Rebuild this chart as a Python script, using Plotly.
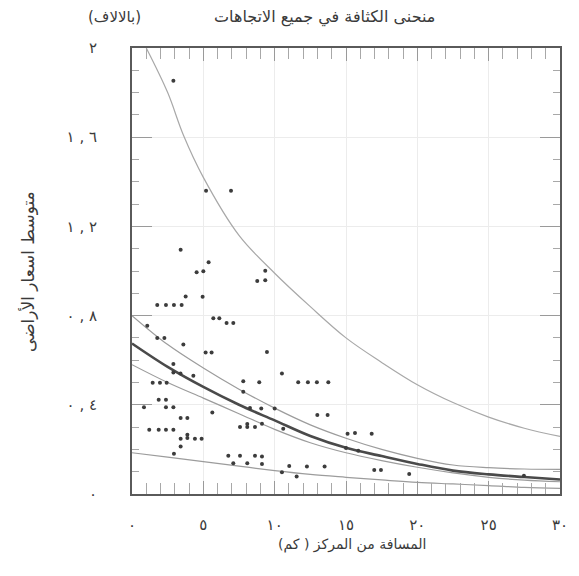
import plotly.graph_objects as go

# ---------------- data ----------------
x_tickvals = [0, 5, 10, 15, 20, 25, 30]
x_ticktext = ["٠", "٥", "١٠", "١٥", "٢٠", "٢٥", "٣٠"]
LRO, PDF = "\u202D", "\u202C"
y_tickvals = [0, 0.4, 0.8, 1.2, 1.6, 2.0]
y_ticktext = ["٠", LRO + "٠ , ٤" + PDF, LRO + "٠ , ٨" + PDF, LRO + "١ , ٢" + PDF, LRO + "١ , ٦" + PDF, "٢"]

pts_x = [2.9, 5.19, 6.94, 3.41, 5.37, 4.53, 5.0, 8.78, 9.34, 9.34, 3.76, 4.95,
         1.77, 2.38, 2.94, 3.48, 5.7, 6.12, 6.63, 7.1, 1.07, 1.77, 2.27, 3.6,
         5.16, 5.58, 9.46, 2.9, 2.9, 3.4, 4.3, 10.51, 1.45, 1.96, 2.43, 7.8, 8.92,
         11.65, 12.33, 12.96, 13.76, 7.8, 1.87, 2.38, 0.84, 2.38, 2.9, 8.27, 9.06,
         10.0, 5.63, 12.99, 13.71, 3.41, 3.88, 7.57, 8.08, 8.08, 8.62, 9.11, 10.6,
         1.21, 1.87, 2.38, 2.9, 15.11, 15.63, 16.8, 3.88, 3.88, 3.41, 4.41, 4.88,
         3.41, 15.0, 15.86, 2.94, 6.75, 7.57, 8.62, 9.11, 7.1, 8.08, 9.11, 11.02,
         12.26, 13.5, 16.98, 17.45, 10.51, 19.43, 11.54, 27.47]
pts_y = [1.853, 1.36, 1.36, 1.095, 1.039, 0.994, 0.999, 0.955, 0.958, 1.001, 0.886, 0.884,
         0.847, 0.847, 0.847, 0.847, 0.788, 0.788, 0.767, 0.767, 0.754, 0.70, 0.70, 0.67,
         0.635, 0.635, 0.637, 0.583, 0.545, 0.54, 0.53, 0.54, 0.499, 0.499, 0.499, 0.506, 0.501,
         0.501, 0.501, 0.501, 0.501, 0.458, 0.423, 0.423, 0.389, 0.389, 0.389, 0.386, 0.383,
         0.383, 0.366, 0.354, 0.354, 0.341, 0.341, 0.30, 0.314, 0.30, 0.30, 0.315, 0.293,
         0.288, 0.288, 0.288, 0.288, 0.27, 0.273, 0.27, 0.266, 0.251, 0.248, 0.248, 0.248,
         0.213, 0.206, 0.194, 0.18, 0.171, 0.171, 0.171, 0.168, 0.138, 0.138, 0.135, 0.126,
         0.123, 0.123, 0.108, 0.108, 0.098, 0.09, 0.078, 0.082]

curve_x = [0, 2.5, 5, 7.5, 10, 12.5, 15, 17.5, 20, 22.5, 25, 27.5, 30]
upper_x = [1.0, 2.5, 3.6, 5, 7.5, 10, 12.5, 15, 17.5, 20, 22.5, 25, 27.5, 30]
upper_y = [2.0, 1.8, 1.61, 1.42, 1.16, 0.99, 0.84, 0.70, 0.59, 0.49, 0.41, 0.345, 0.295, 0.258]
band_hi_y = [0.80, 0.67, 0.565, 0.47, 0.385, 0.31, 0.25, 0.20, 0.16, 0.13, 0.118, 0.112, 0.11]
mid_y = [0.675, 0.57, 0.48, 0.40, 0.33, 0.26, 0.207, 0.17, 0.135, 0.105, 0.088, 0.076, 0.065]
band_lo_y = [0.58, 0.50, 0.43, 0.36, 0.29, 0.23, 0.185, 0.15, 0.12, 0.095, 0.075, 0.062, 0.055]
bottom_y = [0.185, 0.165, 0.145, 0.125, 0.105, 0.088, 0.075, 0.063, 0.052, 0.045, 0.038, 0.03, 0.025]

title_text = "منحنى الكثافة في جميع الاتجاهات"
unit_text = "(بالالاف)"
xtitle_text = "المسافة من المركز ( كم)"
ytitle_text = "متوسط اسعار الأراضى"

# ---------------- figure ----------------
AR_FONT = "DejaVu Sans"
TXT = "#3a3a3a"
fig = go.Figure()

thin = dict(color="#9c9c9c", width=1.2, shape="spline")
fig.add_trace(go.Scatter(x=upper_x, y=upper_y, mode="lines", line=dict(color="#a8a8a8", width=1.2, shape="spline"), hoverinfo="skip"))
fig.add_trace(go.Scatter(x=curve_x, y=band_hi_y, mode="lines", line=thin, hoverinfo="skip"))
fig.add_trace(go.Scatter(x=curve_x, y=band_lo_y, mode="lines", line=thin, hoverinfo="skip"))
fig.add_trace(go.Scatter(x=curve_x, y=bottom_y, mode="lines", line=thin, hoverinfo="skip"))
fig.add_trace(go.Scatter(x=curve_x, y=mid_y, mode="lines", line=dict(color="#4a4a4a", width=2.6, shape="spline"), hoverinfo="skip"))
fig.add_trace(go.Scatter(x=pts_x, y=pts_y, mode="markers", marker=dict(size=4, color="#3c3c3c"), hoverinfo="skip"))

fig.update_xaxes(range=[0, 30], tickmode="array", tickvals=x_tickvals, ticktext=x_ticktext,
                 ticks="inside", ticklen=13, tickwidth=1, tickcolor="#9a9a9a",
                 minor=dict(tickmode="linear", tick0=0, dtick=1, ticks="inside", ticklen=11, tickwidth=1, tickcolor="#a8a8a8", showgrid=False),
                 showline=True, linecolor="#5a5a5a", linewidth=2, mirror="allticks",
                 showgrid=True, gridcolor="#ececec", gridwidth=1, zeroline=False,
                 tickfont=dict(family=AR_FONT, size=15, color=TXT), ticklabelstandoff=16)
fig.update_yaxes(range=[0, 2], tickmode="array", tickvals=y_tickvals, ticktext=y_ticktext,
                 ticks="inside", ticklen=20, tickwidth=1, tickcolor="#9a9a9a",
                 minor=dict(tickmode="linear", tick0=0, dtick=0.1, ticks="inside", ticklen=7, tickwidth=1, tickcolor="#a8a8a8", showgrid=False),
                 showline=True, linecolor="#5a5a5a", linewidth=2, mirror="allticks",
                 showgrid=True, gridcolor="#ececec", gridwidth=1, zeroline=False,
                 tickfont=dict(family=AR_FONT, size=15, color=TXT), ticklabelstandoff=30)

fig.add_annotation(text=title_text, xref="paper", yref="paper", x=0.449, y=1.07, showarrow=False,
                   font=dict(family=AR_FONT, size=16, color=TXT), xanchor="center", yanchor="middle")
fig.add_annotation(text=unit_text, xref="paper", yref="paper", x=-0.04, y=1.07, showarrow=False,
                   font=dict(family=AR_FONT, size=15, color=TXT), xanchor="center", yanchor="middle")
fig.add_annotation(text=xtitle_text, xref="paper", yref="paper", x=0.514, y=-0.114, showarrow=False,
                   font=dict(family=AR_FONT, size=14, color=TXT), xanchor="center", yanchor="middle")
fig.add_annotation(text=ytitle_text, xref="paper", yref="paper", x=-0.243, y=0.5, showarrow=False, textangle=-90,
                   font=dict(family=AR_FONT, size=17, color=TXT), xanchor="center", yanchor="middle")

fig.update_layout(width=579, height=576, margin=dict(l=132, r=19, t=48, b=82),
                  paper_bgcolor="white", plot_bgcolor="white", showlegend=False)
fig.write_html("out.html")
